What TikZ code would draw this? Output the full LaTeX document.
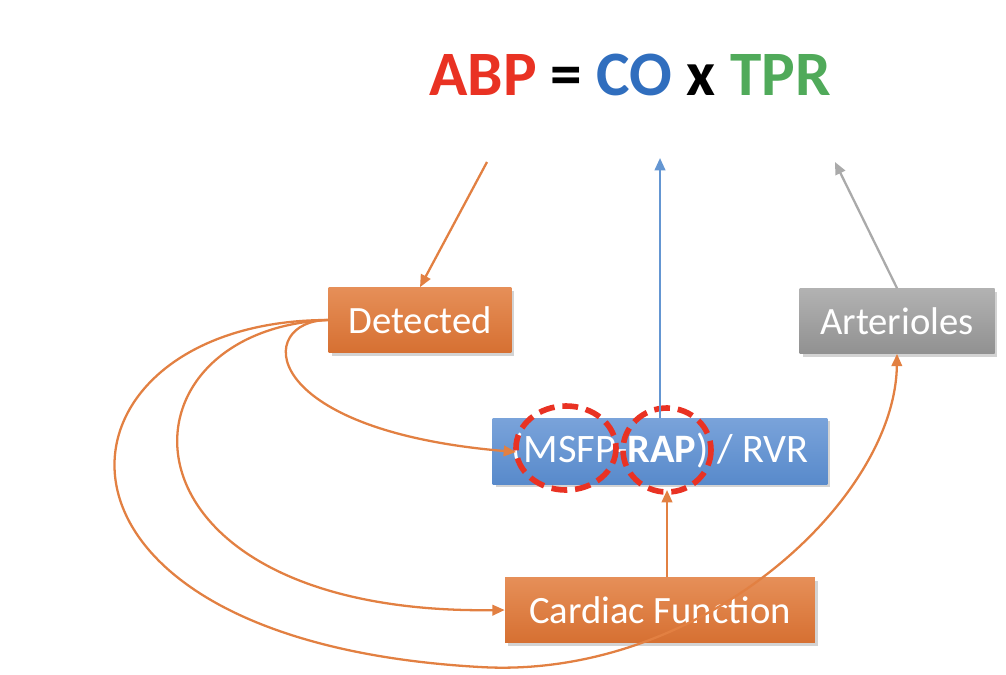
\documentclass[tikz,border=0pt]{standalone}
\usepackage{fontspec}
\setmainfont{Carlito}
\usetikzlibrary{arrows.meta,shadows}

\definecolor{abpred}{RGB}{233,50,35}
\definecolor{cobl}{RGB}{48,110,190}
\definecolor{tprgr}{RGB}{80,170,90}
\definecolor{orline}{RGB}{226,128,66}
\definecolor{blline}{RGB}{100,150,210}
\definecolor{grline}{RGB}{170,170,170}

\tikzset{
  box/.style = {minimum height=1.3cm, text=white, drop shadow={opacity=0.35,shadow xshift=0.6mm,shadow yshift=-0.6mm},
    font=\fontsize{22}{26}\selectfont},
  orbox/.style = {box, top color={rgb,255:red,230;green,143;blue,88}, bottom color={rgb,255:red,214;green,112;blue,50}},
  blbox/.style = {box, top color={rgb,255:red,122;green,163;blue,218}, bottom color={rgb,255:red,88;green,138;blue,203}},
  grbox/.style = {box, top color={rgb,255:red,178;green,178;blue,178}, bottom color={rgb,255:red,145;green,145;blue,145}},
  link/.style = {line width=1.3pt, -{Triangle[length=7pt,width=6pt]}},
  ring/.style = {draw=abpred, line width=3.2pt, dash pattern=on 9pt off 4.5pt}
}

\begin{document}
\begin{tikzpicture}[x=0.02cm, y=-0.02cm]
\useasboundingbox (0,0) rectangle (1006,674);

\node (eq) at (630,75) {\fontsize{36}{40}\selectfont\bfseries
  \textcolor{abpred}{ABP} = \textcolor{cobl}{CO} x \textcolor{tprgr}{TPR}};

\node[orbox, minimum width=3.66cm] (det) at (420,320) {Detected};
\node[grbox, minimum width=3.9cm] (art) at (897,321) {Arterioles};
\node[blbox, minimum width=6.7cm, minimum height=1.32cm, font=\fontsize{23}{27}\selectfont] (flow) at (660,451) {(MSFP-\textbf{RAP}) / RVR};
\node[orbox, minimum width=6.2cm] (card) at (660,610) {Cardiac Function};

\draw[ring] (566,448) ellipse [x radius=50, y radius=42];
\draw[ring] (667,450) ellipse [x radius=44, y radius=42];

\coordinate (abp) at (487,162);
\coordinate (co) at (660,158);
\coordinate (tpr) at (835,162);
\coordinate (rap) at (667,490);
\coordinate (msfp) at (516,452);

\draw[link, orline] (abp) -- (det.north);
\draw[link, blline] (flow.north) -- (co);
\draw[link, grline] (art.north) -- (tpr);
\draw[link, orline] (card.north -| rap) -- (rap);

\draw[link, orline] (det.west) .. controls (255,320) and (255,430) .. (msfp);
\draw[link, orline] (det.west) .. controls (105,330) and (105,615) .. (card.west);
\draw[link, orline] (det.west) .. controls (40,320) and (0,640) .. (480,667)
  .. controls (700,680) and (895,500) .. (art.south);
\end{tikzpicture}
\end{document}
